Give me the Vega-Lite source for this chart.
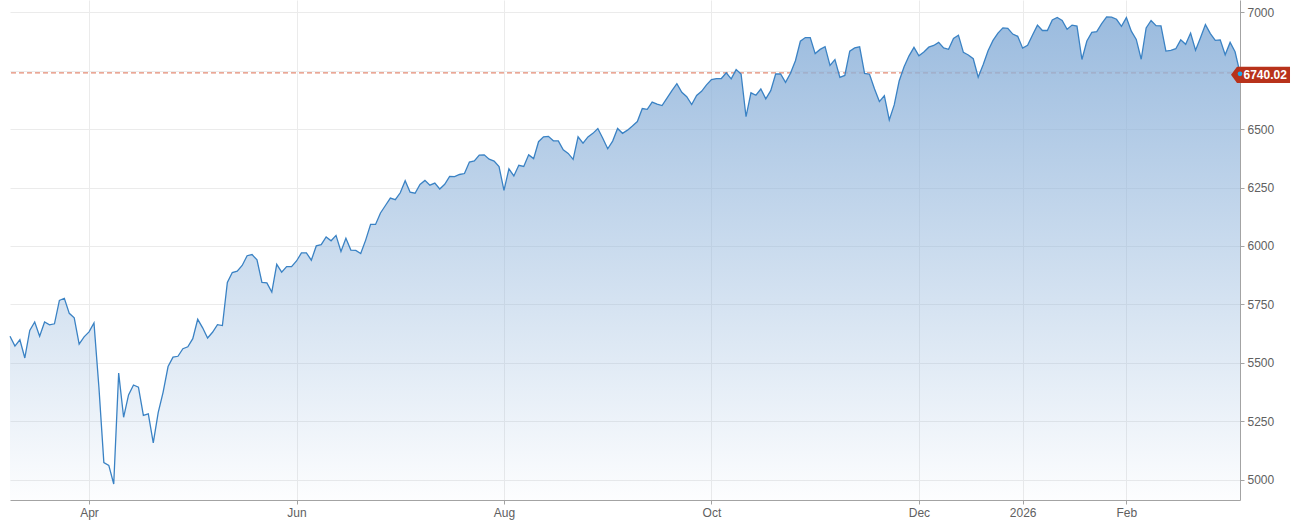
{
  "$schema": "https://vega.github.io/schema/vega-lite/v6.json",
  "width": 1230,
  "height": 500,
  "autosize": {"type": "none"},
  "padding": {"left": 10, "top": 0, "right": 54, "bottom": 23},
  "background": "#ffffff",
  "config": {
    "view": {"stroke": null},
    "font": "Liberation Sans",
    "axis": {
      "domainColor": "#a3a3a3",
      "tickColor": "#a3a3a3",
      "gridColor": "#ebebeb",
      "labelColor": "#606060",
      "labelFont": "Liberation Sans",
      "labelFontSize": 12,
      "tickSize": 4,
      "labelPadding": 3,
      "title": null
    }
  },
  "datasets": {
    "spx": [
      {"d":"2025-03-10","v":5614.56},{"d":"2025-03-11","v":5572.07},{"d":"2025-03-12","v":5599.30},{"d":"2025-03-13","v":5521.52},{"d":"2025-03-14","v":5638.94},
      {"d":"2025-03-17","v":5675.12},{"d":"2025-03-18","v":5614.66},{"d":"2025-03-19","v":5675.29},{"d":"2025-03-20","v":5662.89},{"d":"2025-03-21","v":5667.56},
      {"d":"2025-03-24","v":5767.57},{"d":"2025-03-25","v":5776.65},{"d":"2025-03-26","v":5712.20},{"d":"2025-03-27","v":5693.31},{"d":"2025-03-28","v":5580.94},
      {"d":"2025-03-31","v":5611.85},{"d":"2025-04-01","v":5633.07},{"d":"2025-04-02","v":5670.97},{"d":"2025-04-03","v":5396.52},{"d":"2025-04-04","v":5074.08},
      {"d":"2025-04-07","v":5062.25},{"d":"2025-04-08","v":4982.77},{"d":"2025-04-09","v":5456.90},{"d":"2025-04-10","v":5268.05},{"d":"2025-04-11","v":5363.36},
      {"d":"2025-04-14","v":5405.97},{"d":"2025-04-15","v":5396.63},{"d":"2025-04-16","v":5275.70},{"d":"2025-04-17","v":5282.70},
      {"d":"2025-04-21","v":5158.20},{"d":"2025-04-22","v":5287.76},{"d":"2025-04-23","v":5375.86},{"d":"2025-04-24","v":5484.77},{"d":"2025-04-25","v":5525.21},
      {"d":"2025-04-28","v":5528.75},{"d":"2025-04-29","v":5560.83},{"d":"2025-04-30","v":5569.06},{"d":"2025-05-01","v":5604.14},{"d":"2025-05-02","v":5686.67},
      {"d":"2025-05-05","v":5650.38},{"d":"2025-05-06","v":5606.91},{"d":"2025-05-07","v":5631.28},{"d":"2025-05-08","v":5663.94},{"d":"2025-05-09","v":5659.91},
      {"d":"2025-05-12","v":5844.19},{"d":"2025-05-13","v":5886.55},{"d":"2025-05-14","v":5892.58},{"d":"2025-05-15","v":5916.93},{"d":"2025-05-16","v":5958.38},
      {"d":"2025-05-19","v":5963.60},{"d":"2025-05-20","v":5940.46},{"d":"2025-05-21","v":5844.61},{"d":"2025-05-22","v":5842.01},{"d":"2025-05-23","v":5802.82},
      {"d":"2025-05-27","v":5921.54},{"d":"2025-05-28","v":5888.55},{"d":"2025-05-29","v":5912.17},{"d":"2025-05-30","v":5911.69},
      {"d":"2025-06-02","v":5935.94},{"d":"2025-06-03","v":5970.37},{"d":"2025-06-04","v":5970.81},{"d":"2025-06-05","v":5939.30},{"d":"2025-06-06","v":6000.36},
      {"d":"2025-06-09","v":6005.88},{"d":"2025-06-10","v":6038.81},{"d":"2025-06-11","v":6022.24},{"d":"2025-06-12","v":6045.26},{"d":"2025-06-13","v":5976.97},
      {"d":"2025-06-16","v":6033.11},{"d":"2025-06-17","v":5982.72},{"d":"2025-06-18","v":5980.87},{"d":"2025-06-20","v":5967.84},
      {"d":"2025-06-23","v":6025.17},{"d":"2025-06-24","v":6092.18},{"d":"2025-06-25","v":6092.16},{"d":"2025-06-26","v":6141.02},{"d":"2025-06-27","v":6173.07},
      {"d":"2025-06-30","v":6204.95},{"d":"2025-07-01","v":6198.01},{"d":"2025-07-02","v":6227.42},{"d":"2025-07-03","v":6279.35},
      {"d":"2025-07-07","v":6229.98},{"d":"2025-07-08","v":6225.52},{"d":"2025-07-09","v":6263.26},{"d":"2025-07-10","v":6280.46},{"d":"2025-07-11","v":6259.75},
      {"d":"2025-07-14","v":6268.56},{"d":"2025-07-15","v":6243.76},{"d":"2025-07-16","v":6263.70},{"d":"2025-07-17","v":6297.36},{"d":"2025-07-18","v":6296.79},
      {"d":"2025-07-21","v":6305.60},{"d":"2025-07-22","v":6309.62},{"d":"2025-07-23","v":6358.91},{"d":"2025-07-24","v":6363.35},{"d":"2025-07-25","v":6388.64},
      {"d":"2025-07-28","v":6389.77},{"d":"2025-07-29","v":6370.86},{"d":"2025-07-30","v":6362.90},{"d":"2025-07-31","v":6339.39},{"d":"2025-08-01","v":6238.01},
      {"d":"2025-08-04","v":6329.94},{"d":"2025-08-05","v":6299.19},{"d":"2025-08-06","v":6345.06},{"d":"2025-08-07","v":6340.00},{"d":"2025-08-08","v":6389.45},
      {"d":"2025-08-11","v":6373.45},{"d":"2025-08-12","v":6445.76},{"d":"2025-08-13","v":6466.58},{"d":"2025-08-14","v":6468.54},{"d":"2025-08-15","v":6449.80},
      {"d":"2025-08-18","v":6449.15},{"d":"2025-08-19","v":6411.37},{"d":"2025-08-20","v":6395.78},{"d":"2025-08-21","v":6370.17},{"d":"2025-08-22","v":6466.91},
      {"d":"2025-08-25","v":6439.32},{"d":"2025-08-26","v":6465.94},{"d":"2025-08-27","v":6481.40},{"d":"2025-08-28","v":6501.86},{"d":"2025-08-29","v":6460.26},
      {"d":"2025-09-02","v":6415.54},{"d":"2025-09-03","v":6448.26},{"d":"2025-09-04","v":6502.08},{"d":"2025-09-05","v":6481.50},
      {"d":"2025-09-08","v":6495.15},{"d":"2025-09-09","v":6512.61},{"d":"2025-09-10","v":6532.04},{"d":"2025-09-11","v":6587.47},{"d":"2025-09-12","v":6584.29},
      {"d":"2025-09-15","v":6615.28},{"d":"2025-09-16","v":6606.76},{"d":"2025-09-17","v":6600.35},{"d":"2025-09-18","v":6631.96},{"d":"2025-09-19","v":6664.36},
      {"d":"2025-09-22","v":6693.75},{"d":"2025-09-23","v":6656.92},{"d":"2025-09-24","v":6637.97},{"d":"2025-09-25","v":6604.72},{"d":"2025-09-26","v":6643.70},
      {"d":"2025-09-29","v":6661.21},{"d":"2025-09-30","v":6688.46},{"d":"2025-10-01","v":6711.20},{"d":"2025-10-02","v":6715.35},{"d":"2025-10-03","v":6715.79},
      {"d":"2025-10-06","v":6740.28},{"d":"2025-10-07","v":6714.59},{"d":"2025-10-08","v":6753.72},{"d":"2025-10-09","v":6735.11},{"d":"2025-10-10","v":6552.51},
      {"d":"2025-10-13","v":6654.72},{"d":"2025-10-14","v":6644.31},{"d":"2025-10-15","v":6671.06},{"d":"2025-10-16","v":6629.07},{"d":"2025-10-17","v":6664.01},
      {"d":"2025-10-20","v":6735.13},{"d":"2025-10-21","v":6735.35},{"d":"2025-10-22","v":6699.40},{"d":"2025-10-23","v":6738.44},{"d":"2025-10-24","v":6791.69},
      {"d":"2025-10-27","v":6875.16},{"d":"2025-10-28","v":6890.89},{"d":"2025-10-29","v":6890.59},{"d":"2025-10-30","v":6822.34},{"d":"2025-10-31","v":6840.20},
      {"d":"2025-11-03","v":6851.97},{"d":"2025-11-04","v":6771.55},{"d":"2025-11-05","v":6796.29},{"d":"2025-11-06","v":6720.32},{"d":"2025-11-07","v":6728.80},
      {"d":"2025-11-10","v":6832.43},{"d":"2025-11-11","v":6846.61},{"d":"2025-11-12","v":6850.92},{"d":"2025-11-13","v":6737.49},{"d":"2025-11-14","v":6734.11},
      {"d":"2025-11-17","v":6672.41},{"d":"2025-11-18","v":6617.32},{"d":"2025-11-19","v":6642.16},{"d":"2025-11-20","v":6538.76},{"d":"2025-11-21","v":6602.99},
      {"d":"2025-11-24","v":6705.12},{"d":"2025-11-25","v":6765.88},{"d":"2025-11-26","v":6812.61},{"d":"2025-11-28","v":6849.09},
      {"d":"2025-12-01","v":6812.63},{"d":"2025-12-02","v":6829.37},{"d":"2025-12-03","v":6849.72},{"d":"2025-12-04","v":6857.12},{"d":"2025-12-05","v":6870.40},
      {"d":"2025-12-08","v":6846.51},{"d":"2025-12-09","v":6840.51},{"d":"2025-12-10","v":6886.68},{"d":"2025-12-11","v":6901.00},{"d":"2025-12-12","v":6827.41},
      {"d":"2025-12-15","v":6816.51},{"d":"2025-12-16","v":6800.26},{"d":"2025-12-17","v":6721.43},{"d":"2025-12-18","v":6774.76},{"d":"2025-12-19","v":6834.50},
      {"d":"2025-12-22","v":6878.49},{"d":"2025-12-23","v":6909.79},{"d":"2025-12-24","v":6932.05},{"d":"2025-12-26","v":6929.94},
      {"d":"2025-12-29","v":6905.74},{"d":"2025-12-30","v":6896.24},{"d":"2025-12-31","v":6845.50},{"d":"2026-01-02","v":6858},
      {"d":"2026-01-05","v":6902},{"d":"2026-01-06","v":6944},{"d":"2026-01-07","v":6921},{"d":"2026-01-08","v":6921},{"d":"2026-01-09","v":6966},
      {"d":"2026-01-12","v":6977},{"d":"2026-01-13","v":6964},{"d":"2026-01-14","v":6926},{"d":"2026-01-15","v":6944},{"d":"2026-01-16","v":6940},
      {"d":"2026-01-20","v":6797},{"d":"2026-01-21","v":6876},{"d":"2026-01-22","v":6913},{"d":"2026-01-23","v":6916},
      {"d":"2026-01-26","v":6950},{"d":"2026-01-27","v":6979},{"d":"2026-01-28","v":6978},{"d":"2026-01-29","v":6969},{"d":"2026-01-30","v":6939},
      {"d":"2026-02-02","v":6976},{"d":"2026-02-03","v":6918},{"d":"2026-02-04","v":6883},{"d":"2026-02-05","v":6798},{"d":"2026-02-06","v":6932},
      {"d":"2026-02-09","v":6964},{"d":"2026-02-10","v":6942},{"d":"2026-02-11","v":6941},{"d":"2026-02-12","v":6833},{"d":"2026-02-13","v":6836},
      {"d":"2026-02-17","v":6843},{"d":"2026-02-18","v":6881},{"d":"2026-02-19","v":6862},{"d":"2026-02-20","v":6910},
      {"d":"2026-02-23","v":6837},{"d":"2026-02-24","v":6890},{"d":"2026-02-25","v":6946},{"d":"2026-02-26","v":6908},{"d":"2026-02-27","v":6879},
      {"d":"2026-03-02","v":6881},{"d":"2026-03-03","v":6817},{"d":"2026-03-04","v":6870},{"d":"2026-03-05","v":6830},{"d":"2026-03-06","v":6740.02}
    ],
    "last": [{"d": "2026-03-06", "v": 6740.02, "label": "6740.02"}]
  },
  "encoding": {
    "x": {
      "field": "d",
      "type": "ordinal",
      "scale": {"type": "point", "padding": 0},
      "axis": {
        "values": ["2025-04-01", "2025-06-02", "2025-08-01", "2025-10-01", "2025-12-01", "2025-12-31", "2026-02-02"],
        "labelExpr": "datum.value == '2025-12-31' ? '2026' : utcFormat(toDate(datum.value), '%b')",
        "labelAngle": 0,
        "grid": true
      }
    }
  },
  "layer": [
    {
      "data": {"name": "last"},
      "mark": {"type": "rule", "color": "#e38b74", "strokeDash": [5, 3], "strokeWidth": 1.4},
      "encoding": {
        "x": null,
        "y": {"field": "v", "type": "quantitative"}
      }
    },
    {
      "data": {"name": "spx"},
      "mark": {
        "type": "area",
        "color": {
          "gradient": "linear",
          "x1": 0, "y1": 0, "x2": 0, "y2": 1,
          "stops": [
            {"offset": 0, "color": "rgba(141,178,218,0.88)"},
            {"offset": 1, "color": "rgba(141,178,218,0.02)"}
          ]
        }
      },
      "encoding": {
        "y": {
          "field": "v",
          "type": "quantitative",
          "scale": {"domain": [4914.5, 7051.3], "nice": false, "zero": false},
          "axis": {
            "orient": "right",
            "values": [5000, 5250, 5500, 5750, 6000, 6250, 6500, 6750, 7000],
            "labelExpr": "datum.value == 6750 ? '' : format(datum.value, 'd')",
            "grid": true
          }
        },
        "y2": {"datum": 4914.5}
      }
    },
    {
      "data": {"name": "spx"},
      "mark": {"type": "line", "color": "#3a82c4", "strokeWidth": 1.3},
      "encoding": {
        "y": {"field": "v", "type": "quantitative"}
      }
    },
    {
      "data": {"name": "last"},
      "mark": {
        "type": "point",
        "shape": "M -0.3 0 L -0.1 -0.27 L 1.667 -0.27 L 1.667 0.27 L -0.1 0.27 Z",
        "size": 3600,
        "filled": true,
        "color": "#b8321b",
        "opacity": 1,
        "yOffset": 2
      },
      "encoding": {
        "y": {"field": "v", "type": "quantitative"}
      }
    },
    {
      "data": {"name": "last"},
      "mark": {"type": "point", "size": 22, "filled": true, "color": "#1ea8ea", "opacity": 1, "yOffset": 1},
      "encoding": {
        "y": {"field": "v", "type": "quantitative"}
      }
    },
    {
      "data": {"name": "last"},
      "mark": {
        "type": "text",
        "align": "left",
        "baseline": "middle",
        "dx": 3.5,
        "yOffset": 1.8,
        "color": "#ffffff",
        "font": "Liberation Sans",
        "fontSize": 12,
        "fontWeight": "bold"
      },
      "encoding": {
        "y": {"field": "v", "type": "quantitative"},
        "text": {"field": "label"}
      }
    }
  ]
}
